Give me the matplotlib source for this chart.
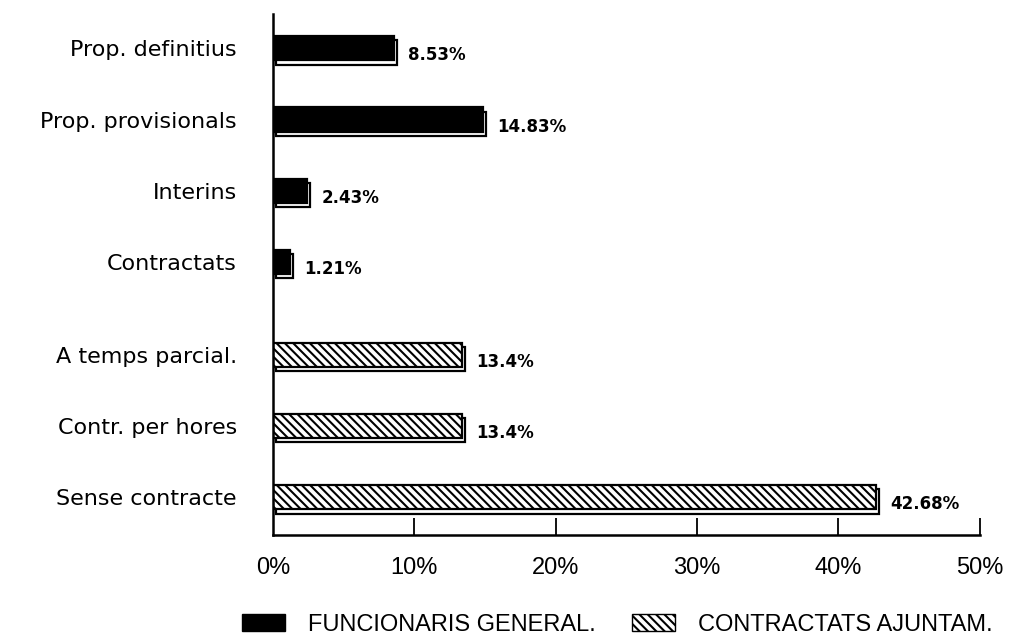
import matplotlib.pyplot as plt
from matplotlib.patches import Patch

# Dades del gràfic
categories = ["Prop. definitius", "Prop. provisionals", "Interins", "Contractats",
              "A temps parcial.", "Contr. per hores", "Sense contracte"]
values = [8.53, 14.83, 2.43, 1.21, 13.4, 13.4, 42.68]
value_labels = ["8.53%", "14.83%", "2.43%", "1.21%", "13.4%", "13.4%", "42.68%"]
groups = ["func", "func", "func", "func", "contr", "contr", "contr"]
legend_labels = ["FUNCIONARIS GENERAL.", "CONTRACTATS AJUNTAM."]
xticks = [0, 10, 20, 30, 40, 50]

plt.rcParams["hatch.linewidth"] = 1.5
HATCH = "\\\\\\\\"

# posicions: petit espai entre els dos grups
ypos = [i + (0.3 if g == "contr" else 0) for i, g in enumerate(groups)]

fig = plt.figure(figsize=(10.11, 6.41), dpi=100)
ax = fig.add_axes([0.270, 0.1654, 0.699, 0.8126])

h = 0.34
for y, v, g in zip(ypos, values, groups):
    # ombra (efecte 3D)
    ax.barh(y + 0.06, v, height=h, left=0.22, color="white", edgecolor="black",
            linewidth=1.6, zorder=1)
    if g == "func":
        ax.barh(y, v, height=h, color="black", edgecolor="black", linewidth=1.6, zorder=2)
    else:
        ax.barh(y, v, height=h, color="white", edgecolor="black", hatch=HATCH,
                linewidth=1.6, zorder=2)

for y, v, t in zip(ypos, values, value_labels):
    ax.text(v + 1.0, y + 0.1, t, va="center", ha="left", fontsize=12,
            fontweight="bold", family="DejaVu Sans")

ax.set_xlim(0, 50)
ax.set_ylim(6.83, -0.48)
ax.set_yticks(ypos)
ax.set_yticklabels(categories, fontsize=16, family="DejaVu Sans")
ax.tick_params(axis="y", length=0, pad=26)
ax.set_xticks(xticks)
ax.set_xticklabels([f"{t}%" for t in xticks], fontsize=17, family="Liberation Sans")
ax.tick_params(axis="x", direction="in", length=12, width=1.3, pad=16)
ax.xaxis.get_major_ticks()[0].tick1line.set_visible(False)

ax.spines["top"].set_visible(False)
ax.spines["right"].set_visible(False)
ax.spines["left"].set_linewidth(1.8)
ax.spines["bottom"].set_linewidth(1.8)

handles = [Patch(facecolor="black", edgecolor="black"),
           Patch(facecolor="white", edgecolor="black", hatch=HATCH)]
fig.legend(handles, legend_labels, loc="center left", bbox_to_anchor=(0.239, 0.025),
           ncol=2, frameon=False, handlelength=1.82, handleheight=0.76,
           columnspacing=1.57, handletextpad=0.97, borderpad=0, borderaxespad=0,
           prop={"family": "Liberation Sans", "size": 17})

fig.savefig("out.png", dpi=100)
